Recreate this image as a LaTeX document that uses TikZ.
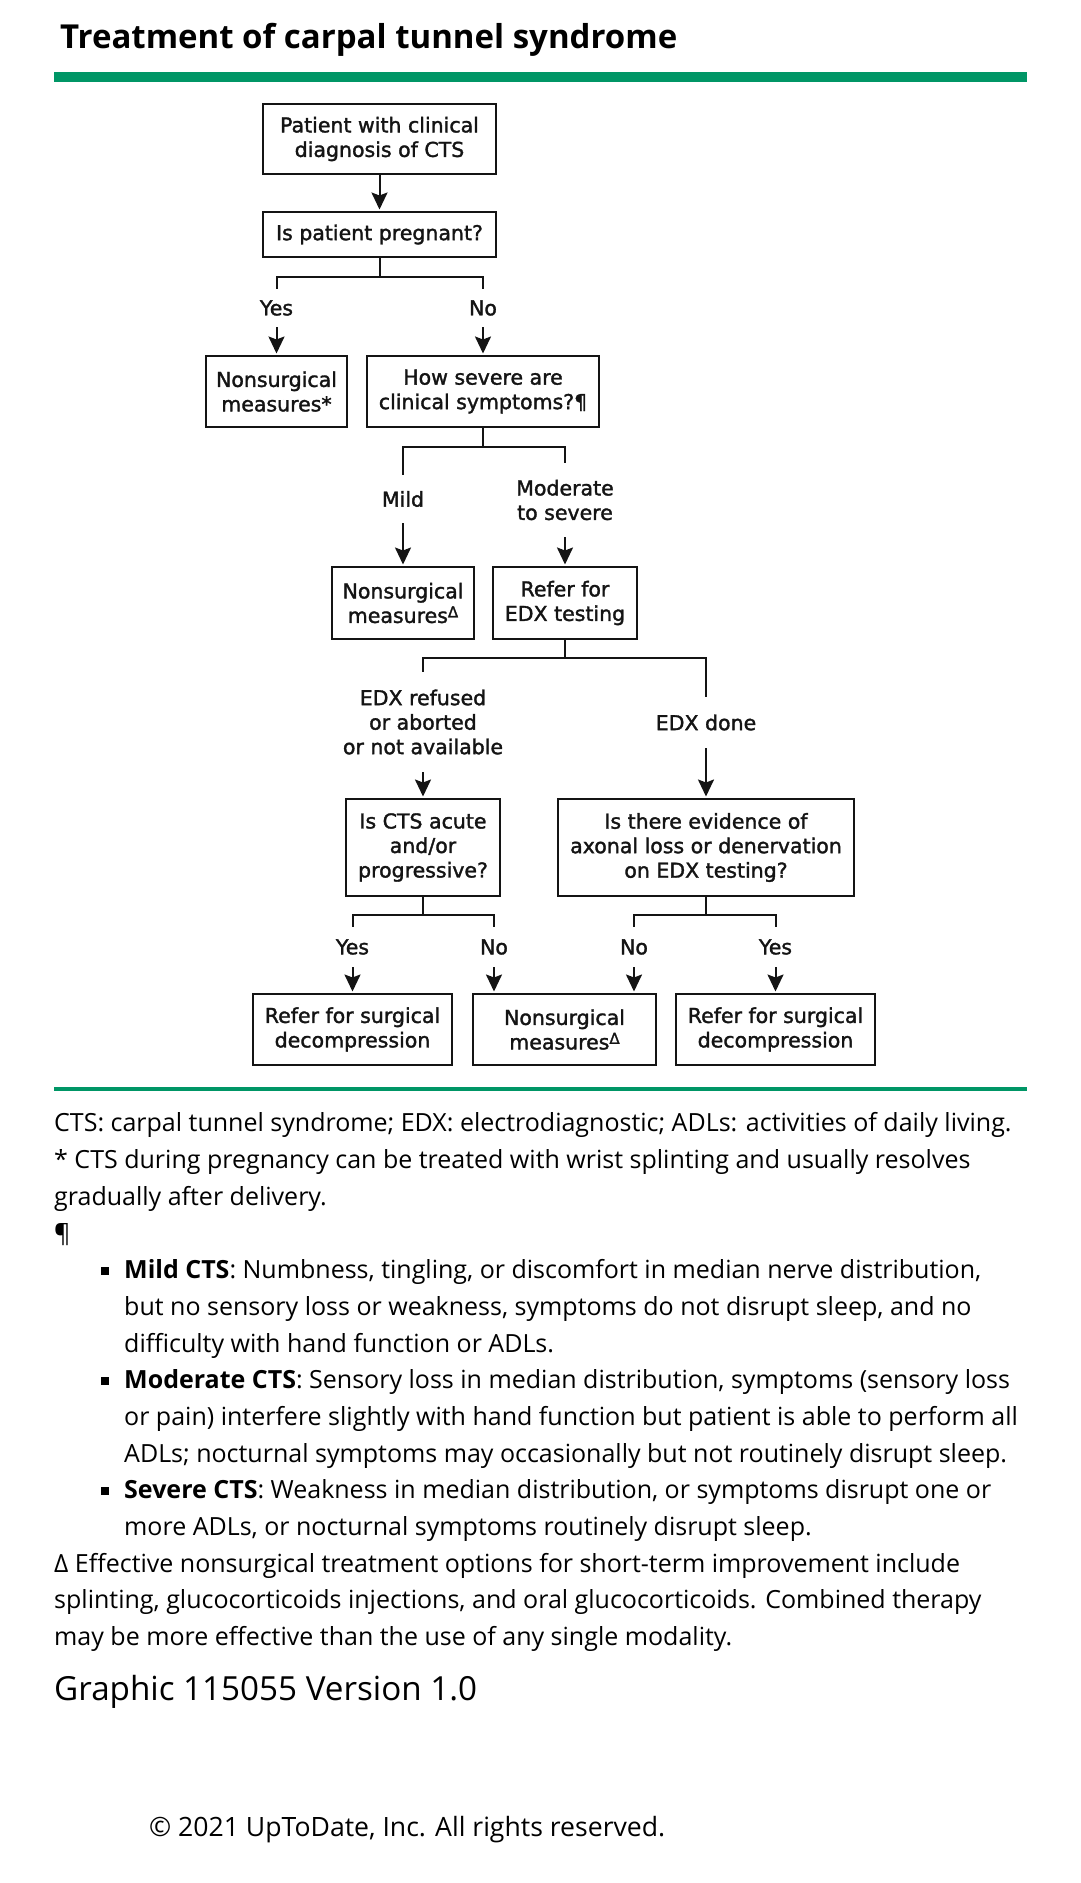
\documentclass[tikz,border=0pt]{standalone}
\usepackage{fontspec}
\setmainfont{Open Sans}
\newfontfamily\flow[FakeBold=1.6]{DejaVu Sans}
\usetikzlibrary{arrows.meta}
\definecolor{utdgreen}{RGB}{0,150,102}
\definecolor{ink}{RGB}{20,20,20}
\newcommand{\sdelta}{\raisebox{0.5ex}{\fontsize{15}{15}\selectfont Δ}}
\begin{document}
\begin{tikzpicture}[x=1pt,y=-1pt,
  box/.style={draw=ink, line width=2pt, align=center, inner sep=0pt, text=ink,
    font=\flow\fontsize{20.5}{24.5}\selectfont},
  lab/.style={align=center, inner sep=0pt, text=ink, font=\flow\fontsize{20.5}{24.5}\selectfont},
  ln/.style={line width=2pt, draw=ink},
  arr/.style={ln, shorten >=1.5pt, -{Stealth[length=17pt,width=16pt,inset=3pt]}},
  foot/.style={anchor=base west, inner sep=0pt, font=\fontsize{25}{29}\selectfont},
]
\useasboundingbox (0,0) rectangle (1080,1883);
\fill[white] (0,0) rectangle (1080,1883);

% title and rules
\node[anchor=base west, inner sep=0pt, font=\bfseries\fontsize{33}{38}\selectfont] (title) at (60,48) {Treatment of carpal tunnel syndrome};
\fill[utdgreen] (54,72) rectangle (1027,82);
\fill[utdgreen] (54,1087) rectangle (1027,1091);

% boxes
\node[box, minimum width=233pt, minimum height=70pt] (b1) at (379.5,139) {Patient with clinical\\diagnosis of CTS};
\node[box, minimum width=233pt, minimum height=45pt] (b2) at (379.5,234.5) {Is patient pregnant?};
\node[box, minimum width=141pt, minimum height=71pt] (b3) at (276.5,391.5) {Nonsurgical\\measures*};
\node[box, minimum width=232pt, minimum height=71pt] (b4) at (483,391.5) {How severe are\\clinical symptoms?¶};
\node[box, minimum width=142pt, minimum height=72pt] (b5) at (403,603) {Nonsurgical\\measures\sdelta};
\node[box, minimum width=144pt, minimum height=72pt] (b6) at (565,603) {Refer for\\EDX testing};
\node[box, minimum width=154pt, minimum height=97pt] (b7) at (423,847.5) {Is CTS acute\\and/or\\progressive?};
\node[box, minimum width=296pt, minimum height=97pt] (b8) at (706,847.5) {Is there evidence of\\axonal loss or denervation\\on EDX testing?};
\node[box, minimum width=199pt, minimum height=71pt] (b9) at (352.5,1029.5) {Refer for surgical\\decompression};
\node[box, minimum width=183pt, minimum height=71pt] (b10) at (564.5,1029.5) {Nonsurgical\\measures\sdelta};
\node[box, minimum width=199pt, minimum height=71pt] (b11) at (775.5,1029.5) {Refer for surgical\\decompression};

% labels
\node[lab, minimum height=38pt] (lyes1) at (276.5,308) {Yes};
\node[lab, minimum height=38pt] (lno1) at (483,308) {No};
\node[lab, minimum height=48pt] (lmild) at (403,499) {Mild};
\node[lab, minimum height=74pt] (lmod) at (565,500) {Moderate\\to severe};
\node[lab, minimum height=100pt] (lref) at (423,722) {EDX refused\\or aborted\\or not available};
\node[lab, minimum height=51pt] (ldone) at (706,722.5) {EDX done};
\node[lab, minimum height=40pt] (lyes2) at (352.5,947) {Yes};
\node[lab, minimum height=40pt] (lno2) at (494,947) {No};
\node[lab, minimum height=40pt] (lno3) at (634,947) {No};
\node[lab, minimum height=40pt] (lyes3) at (775.5,947) {Yes};

% junctions
\coordinate (j1) at (379.5,277);
\coordinate (j2) at (483,447);
\coordinate (j3) at (565,658);
\coordinate (j4) at (423,915);
\coordinate (j5) at (706,915);

% connectors
\draw[arr] (b1.south) -- (b2.north);
\draw[ln] (b2.south) -- (j1);
\draw[ln] (lyes1.north) |- (j1) -| (lno1.north);
\draw[arr] (lyes1.south) -- (b3.north);
\draw[arr] (lno1.south) -- (b4.north);

\draw[ln] (b4.south) -- (j2);
\draw[ln] (lmild.north) |- (j2) -| (lmod.north);
\draw[arr] (lmild.south) -- (b5.north);
\draw[arr] (lmod.south) -- (b6.north);

\draw[ln] (b6.south) -- (j3);
\draw[ln] (lref.north) |- (j3) -| (ldone.north);
\draw[arr] (lref.south) -- (b7.north);
\draw[arr] (ldone.south) -- (b8.north);

\draw[ln] (b7.south) -- (j4);
\draw[ln] (lyes2.north) |- (j4) -| (lno2.north);
\draw[ln] (b8.south) -- (j5);
\draw[ln] (lno3.north) |- (j5) -| (lyes3.north);
\draw[arr] (lyes2.south) -- (b9.north);
\draw[arr] (lno2.south) -- (lno2.south |- b10.north);
\draw[arr] (lno3.south) -- (lno3.south |- b10.north);
\draw[arr] (lyes3.south) -- (b11.north);

% footnotes
\node[foot] (f1) at (54,1131.5) {CTS: carpal tunnel syndrome; EDX: electrodiagnostic; ADLs: activities of daily living.};
\node[foot] (f2) at (54,1168) {* CTS during pregnancy can be treated with wrist splinting and usually resolves};
\node[foot] (f3) at (54,1205) {gradually after delivery.};
\node[foot] (f4) at (54,1242) {¶};
\fill (101,1267) rectangle (109,1275);
\node[foot] (f5) at (124,1278) {\textbf{Mild CTS}: Numbness, tingling, or discomfort in median nerve distribution,};
\node[foot] (f6) at (124,1315) {but no sensory loss or weakness, symptoms do not disrupt sleep, and no};
\node[foot] (f7) at (124,1352) {difficulty with hand function or ADLs.};
\fill (101,1377) rectangle (109,1385);
\node[foot] (f8) at (124,1388) {\textbf{Moderate CTS}: Sensory loss in median distribution, symptoms (sensory loss};
\node[foot] (f9) at (124,1425) {or pain) interfere slightly with hand function but patient is able to perform all};
\node[foot] (f10) at (124,1462) {ADLs; nocturnal symptoms may occasionally but not routinely disrupt sleep.};
\fill (101,1487) rectangle (109,1495);
\node[foot] (f11) at (124,1498) {\textbf{Severe CTS}: Weakness in median distribution, or symptoms disrupt one or};
\node[foot] (f12) at (124,1535) {more ADLs, or nocturnal symptoms routinely disrupt sleep.};
\node[foot] (f13) at (54,1572) {Δ Effective nonsurgical treatment options for short-term improvement include};
\node[foot] (f14) at (54,1608) {splinting, glucocorticoids injections, and oral glucocorticoids. Combined therapy};
\node[foot] (f15) at (54,1645) {may be more effective than the use of any single modality.};
\node[anchor=base west, inner sep=0pt, font=\fontsize{33.2}{38}\selectfont] (graphic) at (54,1700) {Graphic 115055 Version 1.0};
\node[anchor=base west, inner sep=0pt, font=\fontsize{26.6}{32}\selectfont] (copy) at (149,1836) {© 2021 UpToDate, Inc. All rights reserved.};
\end{tikzpicture}
\end{document}
